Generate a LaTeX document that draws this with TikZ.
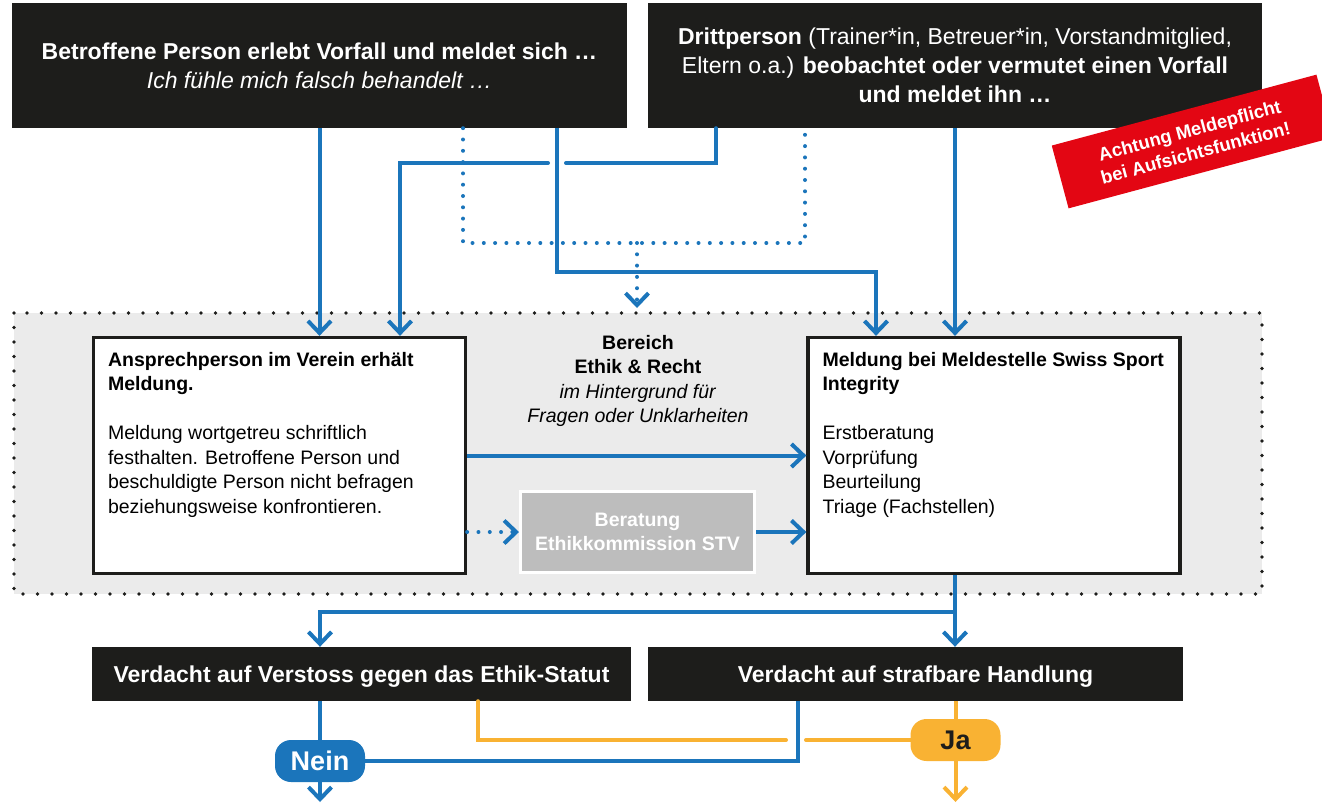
\documentclass[tikz,border=0pt]{standalone}
\usepackage{fontspec}
\setmainfont{Liberation Sans}
\usetikzlibrary{arrows.meta,calc}
\definecolor{stvblau}{HTML}{1B75BB}
\definecolor{stvschwarz}{HTML}{1D1D1B}
\definecolor{stvgrau}{HTML}{EBEBEB}
\definecolor{stvmittelgrau}{HTML}{BDBDBD}
\definecolor{stvrot}{HTML}{E30613}
\definecolor{stvgelb}{HTML}{F9B233}
\newcommand\grund{\fontsize{19.5}{24.5}\selectfont}
\newcommand\gross{\fontsize{23}{29}\selectfont}
\begin{document}
\begin{tikzpicture}[x=1pt,y=-1pt,font=\grund,
  >={Straight Barb[length=12pt,width=23pt]},
  linie/.style={stvblau,line width=4pt},
  pfeil/.style={linie,->},
  gelb/.style={stvgelb,line width=4pt},
  punkte/.style={stvblau,line width=4pt,line cap=round,dash pattern=on 0pt off 11.3pt},
  schwarzbox/.style={fill=stvschwarz,text=white,font=\gross,align=center,inner sep=0pt},
  kasten/.style={draw=stvschwarz,fill=white,line width=3.3pt,inner sep=0pt,minimum width=372pt,minimum height=236pt},
  kastentext/.style={anchor=north west,align=left,inner sep=0pt},
  pille/.style={rounded corners=16pt,minimum width=90pt,minimum height=42pt,inner sep=0pt,font=\fontsize{27}{30}\selectfont\bfseries}]
\useasboundingbox (0,0) rectangle (1322,803);
\fill[stvgrau] (14,313) rectangle (1262,594);
\draw[stvschwarz,line width=3.8pt,line cap=round,dash pattern=on 0pt off 14.5pt] (14,313) rectangle (1262,594);
\node[schwarzbox,minimum width=615pt,minimum height=125pt] (betroffen) at (319.5,65.5) {\textbf{Betroffene Person erlebt Vorfall und meldet sich …}\\\textit{Ich fühle mich falsch behandelt …}};
\node[schwarzbox,minimum width=614pt,minimum height=125pt] (dritt) at (955,65.5) {\textbf{Drittperson} (Trainer*in, Betreuer*in, Vorstandmitglied,\\Eltern o.a.) \textbf{beobachtet oder vermutet einen Vorfall}\\\textbf{und meldet ihn …}};
\node[fill=stvrot,text=white,rotate=15,minimum width=274pt,minimum height=65pt,inner sep=0pt,align=center,font=\fontsize{18.5}{23}\selectfont\bfseries] (pflicht) at (1192.5,141.5) {Achtung Meldepflicht\\bei Aufsichtsfunktion!};
\node[kasten] (ansprech) at (279.5,455.5) {};
\node[kastentext] (ansprechtext) at ($(ansprech.north west)+(16,16)$) {\textbf{Ansprechperson im Verein erhält}\\\textbf{Meldung.}\\[24.5pt]Meldung wortgetreu schriftlich\\festhalten. Betroffene Person und\\beschuldigte Person nicht befragen\\beziehungsweise konfrontieren.};
\node[kasten] (meldestelle) at (994,455.5) {};
\node[kastentext] (meldetext) at ($(meldestelle.north west)+(16,16)$) {\textbf{Meldung bei Meldestelle Swiss Sport}\\\textbf{Integrity}\\[24.5pt]Erstberatung\\Vorprüfung\\Beurteilung\\Triage (Fachstellen)};
\node[align=center] (bereich) at (638,381) {\textbf{Bereich}\\\textbf{Ethik \& Recht}\\\textit{im Hintergrund für}\\\textit{Fragen oder Unklarheiten}};
\node[fill=stvmittelgrau,draw=white,line width=3pt,minimum width=234pt,minimum height=81pt,text=white,font=\grund\bfseries,align=center,inner sep=0pt] (beratung) at (637.5,532) {Beratung\\Ethikkommission STV};
\node[schwarzbox,minimum width=539pt,minimum height=54pt,text depth=0pt] (ethik) at (361.5,674) {\textbf{Verdacht auf Verstoss gegen das Ethik-Statut}};
\node[schwarzbox,minimum width=535pt,minimum height=54pt,text depth=0pt] (straf) at (915.5,674) {\textbf{Verdacht auf strafbare Handlung}};
\node[pille,fill=stvblau,text=white] (nein) at (320,761) {Nein};
\node[pille,fill=stvgelb,text=stvschwarz] (ja) at (955.5,740) {Ja};
\coordinate (k1) at (716,163);
\coordinate (k2) at (400,163);
\coordinate (lueckerechts) at (566,163);
\coordinate (lueckelinks) at (548,163);
\coordinate (m1) at (557,272);
\coordinate (m2) at (876,272);
\coordinate (p1) at (463,243);
\coordinate (p2) at (805,243);
\coordinate (p3) at (637,243);
\coordinate (p4) at (637,308);
\coordinate (v1) at (955,612);
\coordinate (g1) at (478,740);
\coordinate (g2) at (786,740);
\coordinate (g3) at (806,740);
\coordinate (b1) at (798,761);
\coordinate (ende) at (0,802);
\draw[pfeil] (betroffen.south) -- (betroffen.south |- ansprech.north);
\draw[linie,line cap=round] (dritt.south -| k1) |- (lueckerechts);
\draw[pfeil,line cap=round] (lueckelinks) -| (ansprech.north -| k2);
\draw[pfeil] (betroffen.south -| m1) -- (m1) -- (m2) -- (m2 |- meldestelle.north);
\draw[pfeil] (dritt.south) -- (dritt.south |- meldestelle.north);
\draw[punkte] (betroffen.south -| p1) -- (p1) -- (p2) -- (p2 |- dritt.south);
\draw[punkte,->] (p3) -- (p4);
\draw[pfeil] (ansprech.east) -- (meldestelle.west);
\draw[punkte,->] (ansprech.east |- beratung.west) -- (beratung.west);
\draw[pfeil] (beratung.east) -- (beratung.east -| meldestelle.west);
\draw[linie] (meldestelle.south -| v1) -- (v1);
\draw[pfeil] (v1) -- (v1 |- straf.north);
\draw[pfeil] (v1) -| (ethik.north -| nein);
\draw[linie] (ethik.south -| nein) -- (nein.north);
\draw[pfeil] (nein.south) -- (nein.south |- ende);
\draw[gelb,line cap=round] (ethik.south -| g1) |- (g2);
\draw[gelb,line cap=round] (g3) -- (ja.west);
\draw[linie] (straf.south -| b1) |- (nein.east);
\draw[gelb] (straf.south -| ja) -- (ja.north);
\draw[gelb,->] (ja.south) -- (ja.south |- ende);
\end{tikzpicture}
\end{document}
